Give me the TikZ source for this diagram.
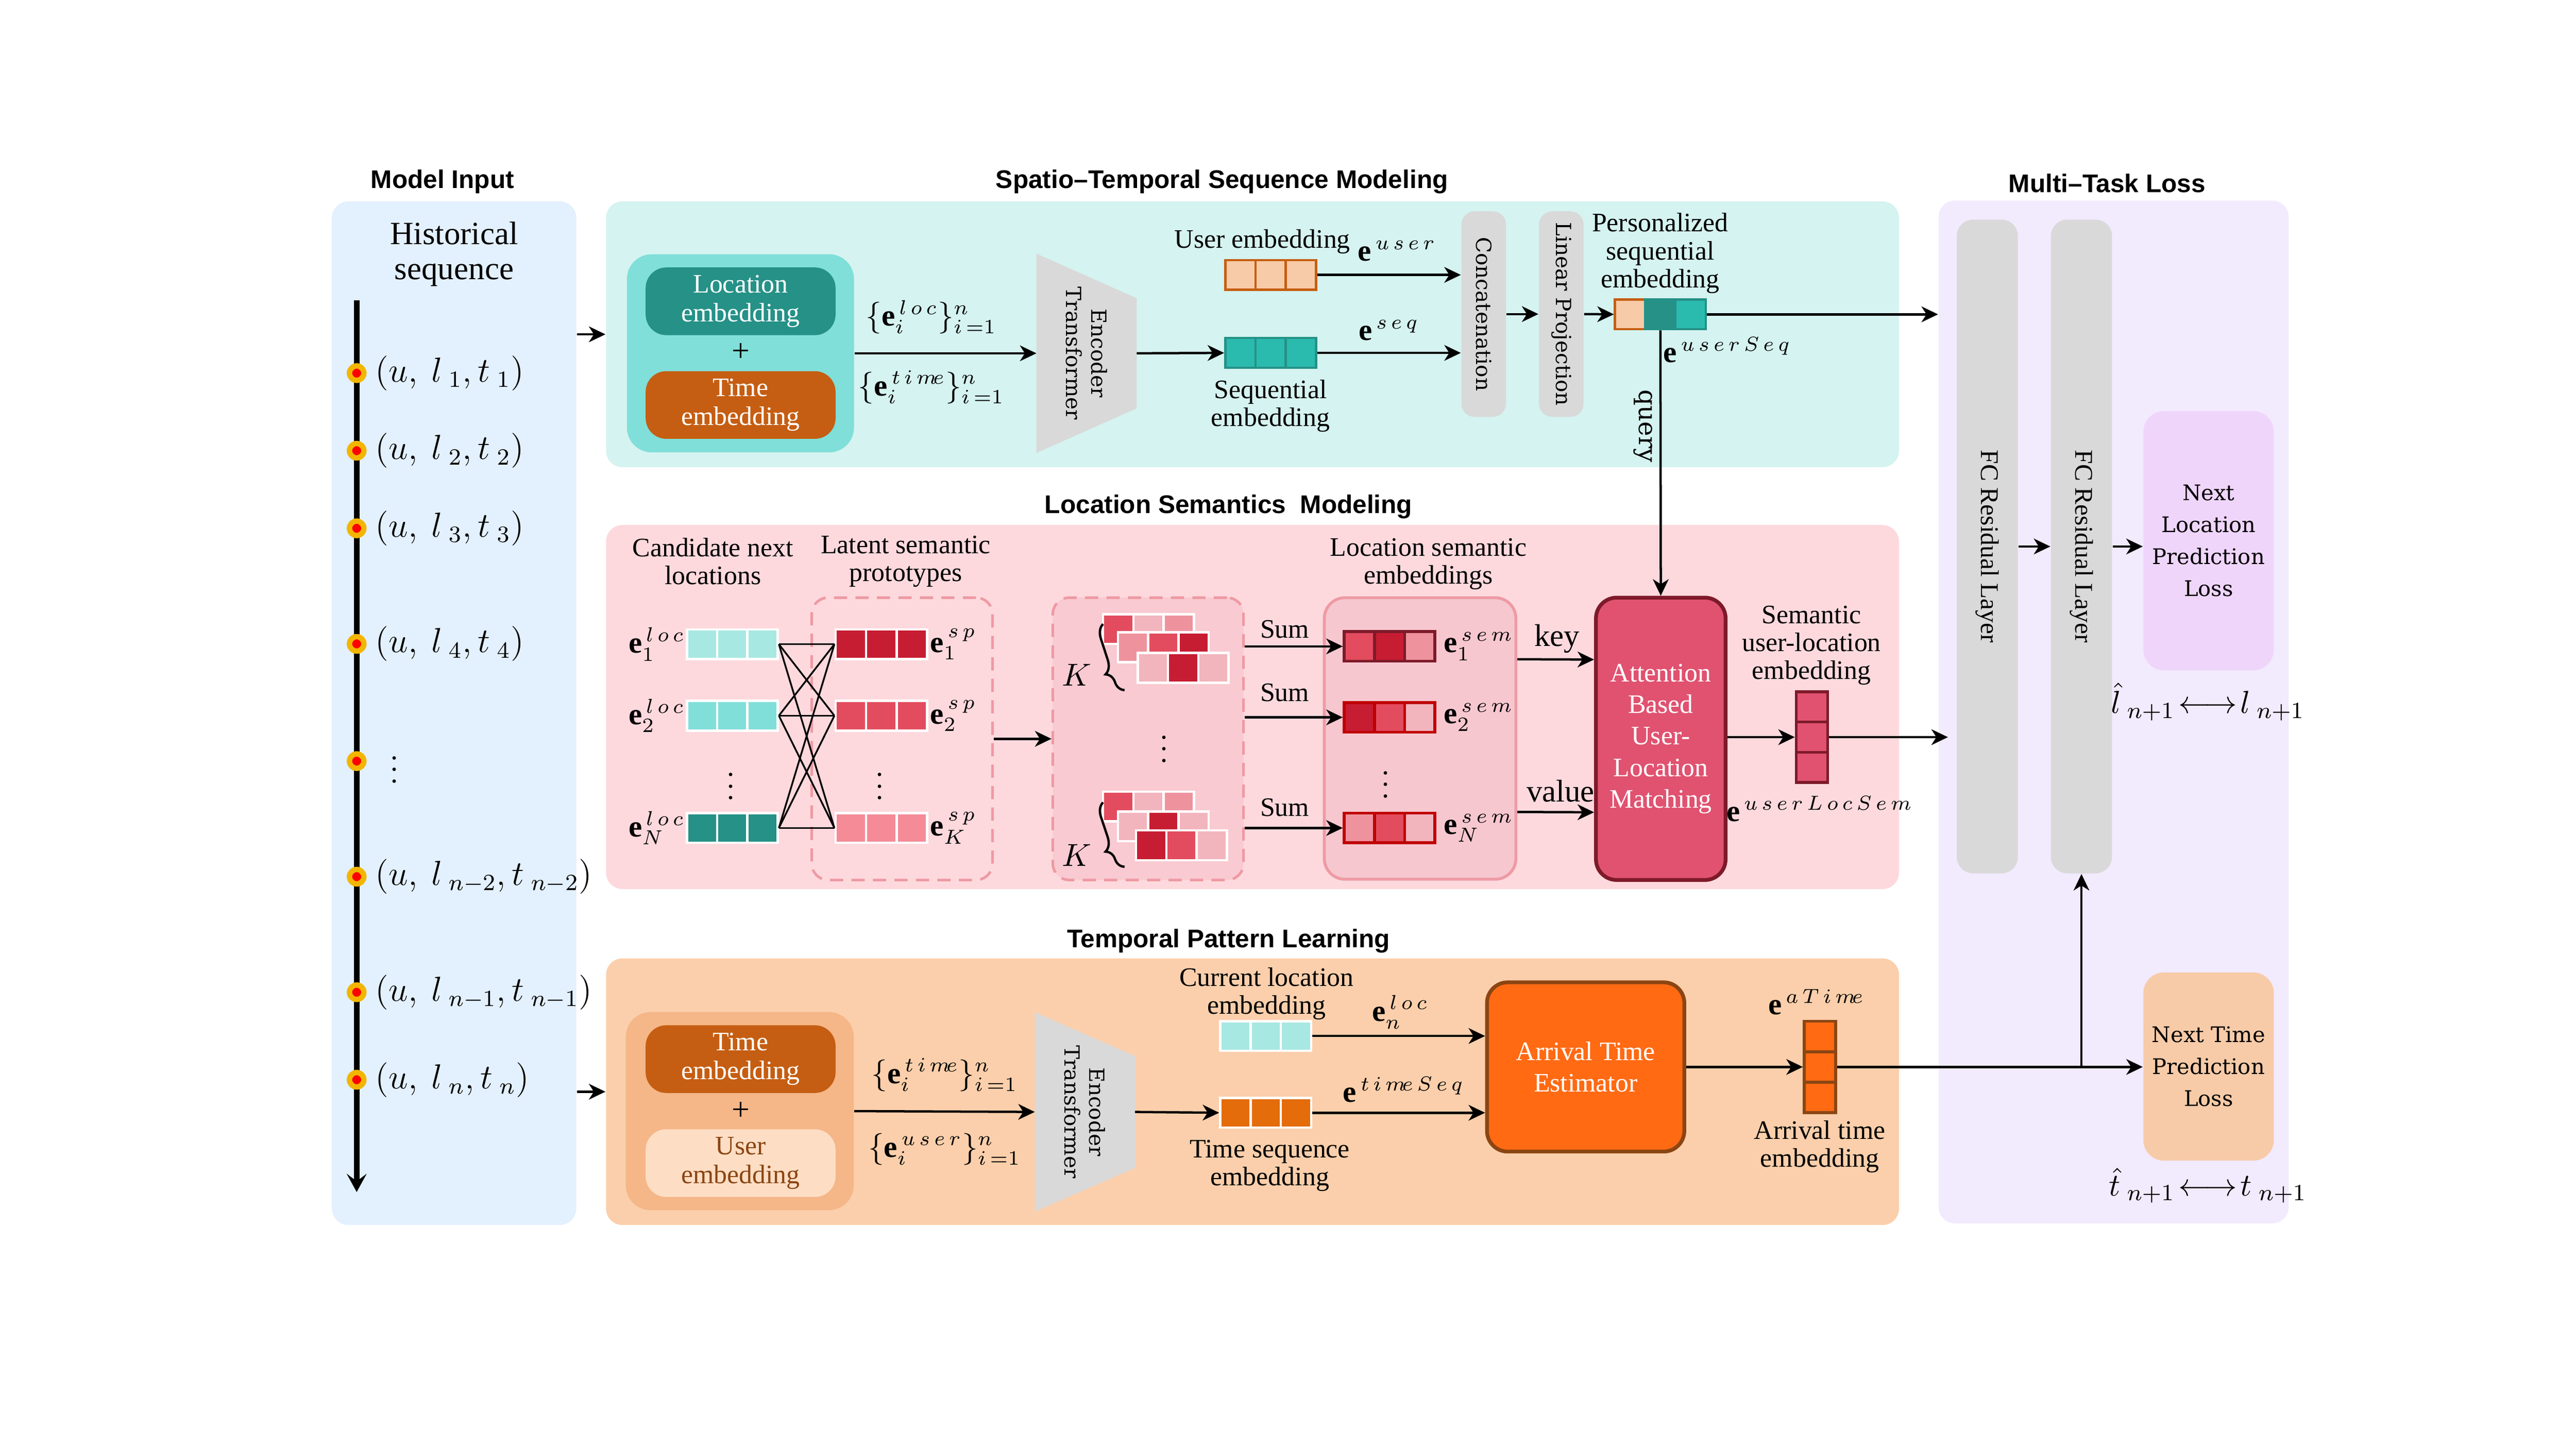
\documentclass[tikz,border=0pt]{standalone}
\usepackage{fontspec}
\setmainfont{Liberation Serif}
\setsansfont{Liberation Sans}
\newfontfamily\cent{DejaVu Serif}
\usepackage{amsmath}
\usetikzlibrary{positioning}
\usetikzlibrary{arrows.meta}
\usetikzlibrary{decorations.pathreplacing}
\definecolor{inblue}{HTML}{E3F0FD}
\definecolor{stcyan}{HTML}{D5F3F0}
\definecolor{lspink}{HTML}{FDD9DD}
\definecolor{tppeach}{HTML}{FBCFAB}
\definecolor{mtlav}{HTML}{F2EAFD}
\definecolor{cyanmid}{HTML}{80DFD9}
\definecolor{cyanpale}{HTML}{A8E8E2}
\definecolor{tealdk}{HTML}{259187}
\definecolor{tealmid}{HTML}{2ABBAE}
\definecolor{rust}{HTML}{C55E12}
\definecolor{apricot}{HTML}{F7CBA8}
\definecolor{rdeep}{HTML}{C71D32}
\definecolor{rmid}{HTML}{E34C5E}
\definecolor{rsoft}{HTML}{EE939E}
\definecolor{rpale}{HTML}{F2B5BD}
\definecolor{rlight}{HTML}{F48B97}
\definecolor{dashpink}{HTML}{EE9AA4}
\definecolor{grpfill}{HTML}{F9CAD1}
\definecolor{semfill}{HTML}{F7C7CF}
\definecolor{wine}{HTML}{7E1A2A}
\definecolor{semred}{HTML}{C00000}
\definecolor{attred}{HTML}{E05270}
\definecolor{barg}{HTML}{D9D9D9}
\definecolor{nlpink}{HTML}{F0D5FB}
\definecolor{tembg}{HTML}{F5B688}
\definecolor{uembbg}{HTML}{FDDEC4}
\definecolor{brownt}{HTML}{8B4513}
\definecolor{tsqor}{HTML}{E46C0A}
\definecolor{ateor}{HTML}{FF6A13}
\definecolor{dotyel}{HTML}{F2B600}
\tikzset{panel/.style={rectangle,rounded corners=2mm,inner sep=0pt}}
\tikzset{ttl/.style={inner sep=0pt,font=\sffamily\bfseries\fontsize{8.8}{10}\selectfont}}
\tikzset{txt/.style={align=center,inner sep=0pt,font=\fontsize{9.2}{9.6}\selectfont}}
\tikzset{mth/.style={inner sep=0pt,font=\fontsize{10.5}{11}\selectfont}}
\tikzset{ctxt/.style={align=center,inner sep=0pt,font=\cent\fontsize{7.2}{8.6}\selectfont}}
\tikzset{cell/.style={rectangle,inner sep=0pt,minimum width=3.67mm,minimum height=3.6mm,line width=0.8pt}}
\tikzset{vcell/.style={rectangle,inner sep=0pt,minimum width=3.8mm,minimum height=3.67mm,line width=1pt}}
\tikzset{embox/.style={rectangle,rounded corners=2.5mm,inner sep=0pt,minimum width=23mm,minimum height=8.2mm,align=center,font=\fontsize{9.2}{9.9}\selectfont}}
\tikzset{bar/.style={rectangle,rounded corners=1.6mm,fill=barg,inner sep=0pt,minimum width=5.4mm,minimum height=24.9mm,font=\cent\fontsize{7.2}{8.6}\selectfont}}
\tikzset{fcbar/.style={rectangle,rounded corners=2mm,fill=barg,inner sep=0pt,minimum width=7.4mm,minimum height=79.2mm,font=\fontsize{8.8}{10}\selectfont}}
\tikzset{encbox/.style={rectangle,minimum width=12mm,minimum height=24mm,inner sep=0pt}}
\tikzset{dashbox/.style={rectangle,rounded corners=2mm,dashed,dash pattern=on 1.6mm off 1mm,draw=dashpink,line width=0.9pt,minimum height=34.2mm,inner sep=0pt}}
\tikzset{bigbox/.style={rectangle,rounded corners=2.5mm,align=center,inner sep=0pt,text=white,line width=1.3pt,font=\fontsize{9.2}{10.9}\selectfont}}
\tikzset{lossbox/.style={rectangle,rounded corners=2.5mm,align=center,inner sep=0pt,minimum width=15.8mm,font=\cent\fontsize{7.4}{11}\selectfont}}
\tikzset{seqdot/.style={circle,fill=red,draw=dotyel,line width=0.65mm,minimum size=1.75mm,inner sep=0pt}}
\tikzset{arr/.style={thick,-{Stealth[length=2mm,width=1.9mm,inset=0.6mm]}}}

\begin{document}
\begin{tikzpicture}[x=0.2mm,y=-0.2mm]
\useasboundingbox (0,0) rectangle (1560,877.5);

% panels
\node[panel,fill=inblue,minimum width=29.6mm,minimum height=124mm] (inp) at (275,432) {};
\node[panel,fill=stcyan,minimum width=156.6mm,minimum height=32.2mm] (stp) at (758.5,202.5) {};
\node[panel,fill=lspink,minimum width=156.6mm,minimum height=44.1mm] (lsp) at (758.5,428.25) {};
\node[panel,fill=tppeach,minimum width=156.6mm,minimum height=32.3mm] (tpp) at (758.5,661.25) {};
\node[panel,fill=mtlav,minimum width=42.4mm,minimum height=123.9mm] (mtp) at (1280,431.25) {};

\node[ttl] (t1) at (268,110) {Model Input};
\node[ttl] (t2) at (740,110) {Spatio--Temporal Sequence Modeling};
\node[ttl] (t3) at (744,307) {Location Semantics\ \ Modeling};
\node[ttl] (t4) at (744,570) {Temporal Pattern Learning};
\node[ttl] (t5) at (1276,111) {Multi--Task Loss};

% model input
\node[txt,font=\fontsize{11.2}{12}\selectfont] (hist) at (275,154) {Historical\\sequence};
\coordinate (tl0) at (216,182);
\coordinate (tl1) at (216,722);
\draw[line width=2pt,-{Stealth[length=2.2mm,width=2.4mm,inset=0.9mm]}] (tl0) -- (tl1);
\foreach \y [count=\k] in {226,273,320,390,461,531,601,654}{
  \node[seqdot] (dot\k) at (216,\y) {};
}
\foreach \y/\lab [count=\k] in {226/{(u,\ l_{\;1},t_{\;1})},273/{(u,\ l_{\;2},t_{\;2})},320/{(u,\ l_{\;3},t_{\;3})},390/{(u,\ l_{\;4},t_{\;4})},531/{(u,\ l_{\;n-2},t_{\;n-2})},601/{(u,\ l_{\;n-1},t_{\;n-1})},654/{(u,\ l_{\;n},t_{\;n})}}{
  \node[anchor=west,inner sep=0pt,font=\fontsize{11.5}{12}\selectfont] (tup\k) at (227,\y) {$\lab$};
}
\node[inner sep=0pt] (tupdots) at (239,461) {$\vdots$};
\draw[arr] (inp.east |- stp.center) -- (stp.west);
\draw[arr] (inp.east |- tpp.center) -- (tpp.west);

% spatio-temporal sequence modeling
\node[panel,fill=cyanmid,rounded corners=3mm,minimum width=27.5mm,minimum height=24mm] (emb1) at (448.4,214) {};
\node[embox,fill=tealdk,text=white] (locemb) at (448.5,182.5) {Location\\embedding};
\node[txt,font=\fontsize{11}{11}\selectfont] (plus1) at (448.5,213.5) {+};
\node[embox,fill=rust,text=white] (timemb) at (448.5,245.3) {Time\\embedding};
\node[mth] (elocs) at (564,192) {$\{\mathbf{e}_i^{\,l\,o\,c}\}_{i\,=1}^{n}$};
\node[mth] (etims) at (564,234.5) {$\{\mathbf{e}_i^{\,t\,i\,m\!e}\}_{i\,=1}^{n}$};
\node[encbox] (enc1) at (658,214) {};
\fill[barg] (enc1.north west) -- ([yshift=-5.4mm]enc1.north east) -- ([yshift=5.4mm]enc1.south east) -- (enc1.south west) -- cycle;
\node[ctxt,rotate=-90] (enc1t) at (enc1.center) {Encoder\\Transformer};
\draw[arr] (emb1.east) -- (enc1.west);

\foreach \c/\cx in {0/751.2,1/769.5,2/787.8}{
  \node[cell,fill=apricot,draw=rust] (usr\c) at (\cx,166.5) {};
  \node[cell,fill=tealmid,draw=tealdk] (sq\c) at (\cx,213.75) {};
}
\draw[arr] (enc1.east) -- (sq0.west);
\node[txt] (usrl) at (764.5,146.5) {User embedding};
\node[mth] (usre) at (846,152) {$\mathbf{e}^{\,u\,s\,e\,r}$};
\node[mth] (sqe) at (841,200) {$\mathbf{e}^{\,s\,e\,q}$};
\node[txt] (sql) at (769.4,246) {Sequential\\embedding};

\node[bar] (cat) at (898.5,190.25) {\rotatebox{-90}{Concatenation}};
\node[bar] (lin) at (945.5,190.25) {\rotatebox{-90}{Linear Projection}};
\draw[arr] (usr2.east) -- (cat.west |- usr2.east);
\draw[arr] (sq2.east) -- (cat.west |- sq2.east);
\draw[arr] (cat.east) -- (lin.west);

\foreach \c/\cx/\cf/\cd in {0/987.2/apricot/rust,1/1005.5/tealdk/tealdk,2/1023.8/tealmid/tealdk}{
  \node[cell,fill=\cf,draw=\cd] (ps\c) at (\cx,190.4) {};
}
\draw[arr] (lin.east) -- (ps0.west);
\draw[arr] (ps2.east) -- (mtp.west |- ps2.east);
\node[txt] (psl) at (1005.4,153.4) {Personalized\\sequential\\embedding};
\node[mth,anchor=west] (pse) at (1007,212) {$\mathbf{e}^{\,u\,s\,e\,r\,S\,e\,q}$};
\node[inner sep=0pt,rotate=-90,font=\cent\fontsize{8.6}{9}\selectfont] (qry) at (995,258) {query};

% location semantics modeling
\node[txt] (candl) at (431.7,340) {Candidate next\\locations};
\node[txt] (protl) at (548.5,340) {Latent semantic\\prototypes};
\node[dashbox,minimum width=21.9mm] (proto) at (546.3,447.5) {};
\node[dashbox,fill=grpfill,minimum width=23.1mm] (grp) at (695.3,447.5) {};
\node[rectangle,rounded corners=2.5mm,fill=semfill,draw=dashpink,line width=1pt,minimum width=23.2mm,minimum height=34.1mm] (sem) at (860,447.3) {};
\node[txt] (seml) at (865,341.5) {Location semantic\\embeddings};

\foreach \r/\yc/\cl/\cs/\ls/\ks in {1/390.2/cyanpale/rdeep/1/1,2/433.5/cyanmid/rmid/2/2,3/501.5/tealdk/rlight/N/K}{
  \foreach \c/\cx in {0/425.2,1/443.5,2/461.8}{
    \node[cell,fill=\cl,draw=white] (loc\r\c) at (\cx,\yc) {};
  }
  \foreach \c/\cx in {0/515.25,1/533.75,2/552.25}{
    \node[cell,minimum width=3.7mm,fill=\cs,draw=white] (sp\r\c) at (\cx,\yc) {};
  }
  \node[mth,anchor=east] (locl\r) at (415,\yc) {$\mathbf{e}_{\ls}^{\,l\,o\,c}$};
  \node[mth,anchor=west] (spl\r) at (563,\yc) {$\mathbf{e}_{\ks}^{\,s\,p}$};
}
\foreach \a in {1,2,3}{
  \foreach \b in {1,2,3}{
    \draw[semithick] (loc\a2.east) -- (sp\b0.west);
  }
}
\node[inner sep=0pt] (ldots) at (442.6,471) {$\vdots$};
\node[inner sep=0pt] (sdots) at (532.6,471) {$\vdots$};
\draw[arr] (proto.east) -- (grp.west);

\foreach \r/\xl/\yc/\ca/\cb/\cc in {1/668/381/rmid/rpale/rsoft,2/677/392/rsoft/rmid/rdeep,3/689/404.5/rpale/rdeep/rpale}{
  \foreach \c/\cf in {0/\ca,1/\cb,2/\cc}{
    \node[cell,fill=\cf,draw=white] (ga\r\c) at (\xl+9.17+18.33*\c,\yc) {};
  }
}
\foreach \r/\xl/\yc/\ca/\cb/\cc in {1/668/488.5/rmid/rpale/rsoft,2/677/500.5/rpale/rdeep/rpale,3/688/512/rdeep/rmid/rpale}{
  \foreach \c/\cf in {0/\ca,1/\cb,2/\cc}{
    \node[cell,fill=\cf,draw=white] (gb\r\c) at (\xl+9.17+18.33*\c,\yc) {};
  }
}
\coordinate (bra0) at (681,418);
\coordinate (bra1) at (668,378);
\coordinate (brb0) at (681,525);
\coordinate (brb1) at (668,486);
\draw[thick,decorate,decoration={brace,amplitude=1.6mm,aspect=0.3}] (bra0) -- (bra1);
\draw[thick,decorate,decoration={brace,amplitude=1.6mm,aspect=0.3}] (brb0) -- (brb1);
\node[mth] (ka) at (652,409) {$K$};
\node[mth] (kb) at (652,518) {$K$};
\node[inner sep=0pt] (gdots) at (705,448.5) {$\vdots$};

\foreach \r/\yc/\cd/\ca/\cb/\cc/\ls in {1/391.5/wine/rmid/rdeep/rsoft/1,2/434.5/semred/rdeep/rmid/rpale/2,3/501.5/semred/rsoft/rmid/rpale/N}{
  \foreach \c/\cx/\cf in {0/823.2/\ca,1/841.5/\cb,2/859.8/\cc}{
    \node[cell,fill=\cf,draw=\cd,line width=1pt] (sm\r\c) at (\cx,\yc) {};
  }
  \draw[arr] (grp.east |- sm\r0.west) -- (sm\r0.west);
  \node[mth,anchor=west] (seme\r) at (874,\yc) {$\mathbf{e}_{\ls}^{\,s\,e\,m}$};
}
\node[txt] (sum1) at (778,381) {Sum};
\node[txt] (sum2) at (778,419.6) {Sum};
\node[txt] (sum3) at (778,489) {Sum};
\node[inner sep=0pt] (mdots) at (839,470) {$\vdots$};

\node[bigbox,fill=attred,draw=wine,minimum width=15.7mm,minimum height=34.2mm] (att) at (1005.75,447.5) {Attention\\Based\\User-\\Location\\Matching};
\draw[arr] ([yshift=9.6mm]sem.east) -- ([yshift=9.6mm]att.west);
\draw[arr] ([yshift=-8.9mm]sem.east) -- ([yshift=-8.9mm]att.west);
\node[txt,font=\fontsize{10.8}{11}\selectfont] (keyl) at (943,387) {key};
\node[txt,font=\fontsize{10.8}{11}\selectfont] (vall) at (945,479) {value};
\draw[arr] (ps1.south) -- (att.north);

\foreach \c/\cy in {0/428.2,1/446.5,2/464.8}{
  \node[vcell,fill=attred,draw=wine] (ul\c) at (1097.3,\cy) {};
}
\draw[arr] (att.east |- ul1.west) -- (ul1.west);
\draw[arr] (ul1.east) -- ([xshift=1.2mm]mtp.west |- ul1.east);
\node[txt] (ulel) at (1097,391) {Semantic\\user-location\\embedding};
\node[mth] (ulee) at (1102,490) {$\mathbf{e}^{\,u\,s\,e\,r\,L\,o\,c\,S\,e\,m}$};

% temporal pattern learning
\node[panel,fill=tembg,rounded corners=3mm,minimum width=27.6mm,minimum height=24mm] (emb2) at (448,673) {};
\node[embox,fill=rust,text=white] (temb) at (448.5,641.5) {Time\\embedding};
\node[txt,font=\fontsize{11}{11}\selectfont] (plus2) at (448.5,673) {+};
\node[embox,fill=uembbg,text=brownt] (uemb) at (448.5,704.5) {User\\embedding};
\node[mth] (etim2) at (572,651) {$\{\mathbf{e}_i^{\,t\,i\,m\!e}\}_{i\,=1}^{n}$};
\node[mth] (eusr2) at (572,696) {$\{\mathbf{e}_i^{\,u\,s\,e\,r}\}_{i\,=1}^{n}$};
\node[encbox] (enc2) at (657,673.5) {};
\fill[barg] (enc2.north west) -- ([yshift=-5.3mm]enc2.north east) -- ([yshift=5.3mm]enc2.south east) -- (enc2.south west) -- cycle;
\node[ctxt,rotate=-90] (enc2t) at (enc2.center) {Encoder\\Transformer};
\draw[arr] (emb2.east) -- (enc2.west);

\foreach \c/\cx in {0/748.2,1/766.5,2/784.8}{
  \node[cell,fill=cyanpale,draw=white] (cur\c) at (\cx,627.5) {};
  \node[cell,fill=tsqor,draw=white] (tsq\c) at (\cx,674) {};
}
\draw[arr] (enc2.east) -- (tsq0.west);
\node[txt] (curl) at (767,602) {Current location\\embedding};
\node[txt] (tsql) at (769,706) {Time sequence\\embedding};

\node[bigbox,fill=ateor,draw=brownt,minimum width=23.9mm,minimum height=20.5mm] (ate) at (960.25,646.25) {Arrival Time\\Estimator};
\draw[arr] (cur2.east) -- (ate.west |- cur2.east);
\draw[arr] (tsq2.east) -- (ate.west |- tsq2.east);
\node[mth] (enl) at (848,613) {$\mathbf{e}_n^{\,l\,o\,c}$};
\node[mth] (etsq) at (850,660) {$\mathbf{e}^{\,t\,i\,m\!e\,S\,e\,q}$};

\foreach \c/\cy in {0/627.75,1/646.25,2/664.75}{
  \node[vcell,fill=ateor,draw=brownt] (at\c) at (1102.15,\cy) {};
}
\draw[arr] (ate.east |- at1.west) -- (at1.west);
\node[mth] (atme) at (1100,607) {$\mathbf{e}^{\,a\,T\,i\,m\!e}$};
\node[txt] (atml) at (1102,694.6) {Arrival time\\embedding};

% multi-task loss
\node[fcbar] (fc1) at (1203.5,331) {\rotatebox{-90}{FC Residual Layer}};
\node[fcbar] (fc2) at (1260.5,331) {\rotatebox{-90}{FC Residual Layer}};
\node[lossbox,fill=nlpink,minimum height=31.4mm] (nl) at (1337.5,327.5) {Next\\Location\\Prediction\\Loss};
\node[lossbox,fill=apricot,minimum height=22.8mm] (nt) at (1337.5,646) {Next Time\\Prediction\\Loss};
\draw[arr] (fc1.east) -- (fc2.west);
\draw[arr] (fc2.east) -- (nl.west |- fc2.east);
\draw[arr] (at1.east) -- (nt.west |- at1.east);
\draw[arr] (fc2.south |- at1.east) -- (fc2.south);
\node[inner sep=0pt,font=\fontsize{11}{11}\selectfont] (lossl) at (1337,425) {$\hat{l}_{\;n+1}\!\longleftrightarrow\! l_{\;n+1}$};
\node[inner sep=0pt,font=\fontsize{11}{11}\selectfont] (losst) at (1337,718) {$\hat{t}_{\;n+1}\!\longleftrightarrow\! t_{\;n+1}$};

\end{tikzpicture}
\end{document}
